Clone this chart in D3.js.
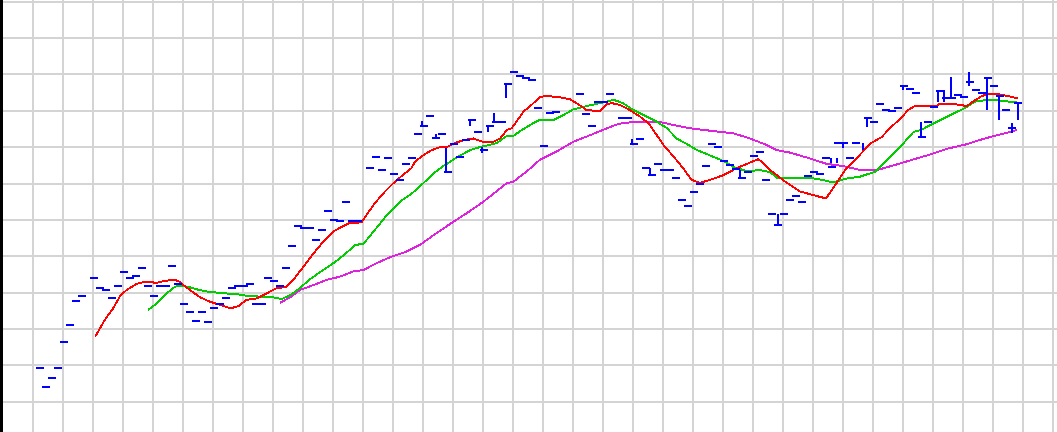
<!DOCTYPE html>
<html>
<head>
<meta charset="utf-8">
<script src="https://cdn.jsdelivr.net/npm/d3@7"></script>
<style>
  body { margin: 0; background: #fff; overflow: hidden; }
</style>
</head>
<body>
<script>
const width = 1057;
const height = 432;

// grid: one horizontal line per price unit, one vertical line per week (5 days)
const priceLevels = d3.range(10, 22);
const weeks = d3.range(1, 36);

// daily closes [day, price]
const closeTicks = [
  [6, 10.92], [7, 10.41], [8, 10.64], [9, 10.92], [10, 11.63], [11, 12.12], [12, 12.78], [13, 12.90],
  [15, 13.39], [16, 13.12], [17, 13.06], [18, 12.84], [19, 13.18], [20, 13.56], [21, 13.39], [22, 13.45],
  [23, 13.67], [24, 13.18], [25, 12.90], [26, 13.18], [27, 13.18], [28, 13.73], [29, 13.23],
  [30, 12.68], [31, 12.46], [32, 12.23], [33, 12.46], [34, 12.18], [35, 12.57], [36, 12.68], [37, 12.84],
  [38, 13.12], [39, 13.18], [40, 13.18], [41, 13.23], [42, 12.68], [43, 12.68], [44, 13.39], [45, 13.33],
  [46, 13.17], [47, 13.67], [48, 14.27], [49, 14.82], [50, 14.77], [51, 14.77], [52, 14.45], [53, 14.71],
  [54, 15.25], [55, 15.00], [56, 14.96], [57, 15.48], [58, 14.97], [59, 14.97],
  [61, 16.42], [62, 16.74], [63, 16.37], [64, 16.69], [65, 16.25], [66, 16.10], [67, 16.53], [68, 16.69],
  [69, 17.36], [70, 17.58], [71, 17.86], [72, 17.24], [73, 17.36], [74, 16.33], [75, 17.09], [76, 16.74],
  [77, 17.20], [78, 17.75], [79, 17.43], [80, 16.92], [81, 17.58], [82, 17.68], [83, 17.68], [84, 18.74],
  [85, 19.08], [86, 18.96], [87, 18.90], [88, 18.85], [89, 18.07], [90, 17.03], [91, 17.93], [92, 17.96],
  [96, 18.45], [97, 17.90], [98, 17.57], [99, 18.23], [100, 18.23], [101, 18.45], [103, 17.79], [104, 17.79],
  [105, 17.09], [106, 17.22], [107, 16.42], [108, 16.23], [109, 16.53], [110, 16.36], [111, 16.36], [112, 16.14],
  [113, 15.54], [114, 15.38], [115, 15.76], [116, 15.98], [117, 16.48], [118, 17.08], [119, 17.01], [120, 16.62],
  [121, 16.51], [122, 16.40], [123, 16.15], [124, 16.31], [125, 16.76], [126, 16.86], [127, 16.09], [128, 15.15],
  [129, 14.87], [130, 15.15], [131, 15.54], [132, 15.65], [133, 15.48], [134, 16.20], [135, 16.31], [136, 16.25],
  [137, 16.69], [138, 16.46], [139, 17.12], [140, 17.12], [141, 16.69], [142, 17.12], [144, 17.79], [145, 17.70],
  [146, 18.19], [147, 18.02], [148, 17.99], [149, 18.07], [150, 18.68], [151, 18.60], [152, 18.50], [153, 17.27],
  [154, 17.70], [155, 18.11], [156, 18.54], [157, 18.34], [158, 18.34], [159, 18.44], [160, 18.37], [161, 18.80],
  [162, 18.57], [163, 18.48], [164, 18.89], [165, 18.68], [166, 18.41], [167, 18.02], [168, 17.52], [169, 18.21]
];

// vertical moves between closes [day, from, to]
const closeJumps = [
  [69.7, 17.72, 17.58], [72, 17.36, 17.24], [73.7, 16.97, 16.33], [77.7, 17.75, 17.58],
  [79.7, 17.01, 16.85], [80.7, 17.58, 17.43], [81.7, 17.93, 17.68], [83.7, 18.74, 18.34],
  [104.7, 17.22, 17.06], [107.7, 16.42, 16.23], [122.7, 16.37, 16.15], [129.0, 15.16, 14.86],
  [137.8, 16.69, 16.56], [138.8, 16.69, 16.56], [139.8, 17.12, 16.97], [143.2, 17.12, 16.92],
  [143.8, 17.79, 17.56], [149.8, 18.71, 18.57], [152.8, 17.69, 17.28], [155.7, 18.54, 18.25],
  [156.7, 18.57, 18.25], [157.8, 18.94, 18.34], [160.8, 19.08, 18.68], [163.8, 18.89, 18.02],
  [165.8, 18.41, 17.75], [168.0, 17.67, 17.38], [169.0, 18.21, 17.75]
];

// moving averages [day, price]
const maShort = [
  [15.2, 11.79], [16.8, 12.25], [18.2, 12.57], [19.3, 12.89], [20.4, 13.07], [22.1, 13.24], [23.5, 13.30],
  [25.4, 13.27], [27.1, 13.33], [28.5, 13.35], [29.3, 13.30], [29.9, 13.21], [31.0, 13.07], [32.7, 12.87],
  [34.3, 12.75], [36.6, 12.63], [37.8, 12.57], [39.1, 12.63], [40.4, 12.80], [42.1, 12.84], [43.8, 12.98],
  [45.4, 13.12], [47.1, 13.16], [48.2, 13.35], [49.9, 13.71], [51.6, 14.08], [53.2, 14.40], [54.9, 14.68],
  [56.3, 14.81], [57.7, 14.92], [59.6, 14.93], [60.4, 15.13], [61.8, 15.46], [63.5, 15.78], [64.9, 16.01],
  [66.8, 16.28], [67.9, 16.42], [68.5, 16.60], [69.9, 16.78], [71.3, 16.92], [72.7, 17.00], [73.8, 17.00],
  [75.2, 17.12], [76.8, 17.20], [78.2, 17.24], [79.9, 17.14], [81.6, 17.15], [82.7, 17.24], [83.8, 17.47],
  [84.6, 17.52], [85.4, 17.70], [86.6, 17.98], [87.9, 18.16], [89.3, 18.37], [90.2, 18.41], [92.7, 18.37],
  [94.3, 18.32], [95.4, 18.21], [97.1, 18.02], [99.3, 17.99], [100.4, 18.18], [101.3, 18.21], [102.7, 18.16],
  [104.3, 18.02], [106.0, 17.84], [107.4, 17.66], [108.8, 17.33], [109.9, 17.06], [111.6, 16.74], [113.2, 16.42],
  [114.6, 16.10], [116.0, 16.02], [117.7, 16.10], [119.9, 16.23], [122.1, 16.42], [124.1, 16.56], [125.7, 16.67],
  [126.3, 16.60], [127.7, 16.37], [130.2, 16.05], [132.7, 15.78], [134.9, 15.68], [137.0, 15.59], [138.8, 16.02],
  [140.2, 16.37], [142.1, 16.69], [144.3, 17.09], [146.3, 17.28], [147.7, 17.53], [149.3, 17.77], [150.7, 18.02],
  [151.8, 18.13], [155.5, 18.13], [156.0, 18.20], [158.2, 18.19], [160.5, 18.13], [161.3, 18.23], [162.7, 18.38],
  [163.8, 18.46], [165.7, 18.46], [167.7, 18.39], [169.0, 18.34]
];

const maMid = [
  [24.0, 12.52], [25.5, 12.71], [27.1, 12.98], [28.5, 13.16], [29.3, 13.19], [30.7, 13.16], [32.1, 13.09],
  [33.8, 13.03], [36.6, 12.98], [38.8, 12.96], [40.5, 12.91], [42.7, 12.89], [44.9, 12.87], [46.3, 12.82],
  [47.7, 12.93], [49.3, 13.12], [51.0, 13.37], [53.2, 13.62], [55.5, 13.88], [57.4, 14.14], [58.5, 14.31],
  [59.9, 14.34], [61.6, 14.68], [63.8, 15.13], [66.0, 15.50], [68.0, 15.73], [69.9, 16.01], [71.6, 16.28],
  [73.2, 16.48], [75.5, 16.72], [77.7, 16.92], [79.3, 17.00], [82.1, 17.11], [83.8, 17.31], [84.9, 17.31],
  [86.3, 17.47], [88.0, 17.64], [89.3, 17.75], [91.6, 17.75], [93.2, 17.88], [94.9, 18.04], [97.1, 18.13],
  [99.3, 18.21], [101.6, 18.30], [103.2, 18.21], [104.9, 18.02], [107.1, 17.84], [108.8, 17.70], [110.5, 17.52],
  [112.1, 17.24], [114.1, 17.06], [115.5, 16.92], [117.7, 16.77], [119.9, 16.62], [121.6, 16.45], [123.8, 16.34],
  [126.0, 16.37], [127.7, 16.31], [128.8, 16.16], [131.0, 16.14], [134.9, 16.14], [136.3, 16.10], [138.2, 16.03],
  [140.5, 16.14], [142.7, 16.19], [145.3, 16.33], [147.7, 16.74], [149.7, 17.07], [151.6, 17.42], [152.8, 17.47],
  [155.0, 17.66], [157.7, 17.88], [160.2, 18.08], [161.8, 18.25], [163.8, 18.30], [166.0, 18.28], [168.8, 18.23]
];

const maLong = [
  [46.0, 12.72], [47.7, 12.87], [49.3, 13.07], [51.6, 13.21], [53.8, 13.35], [56.0, 13.44], [58.2, 13.58],
  [59.9, 13.62], [62.1, 13.81], [64.3, 13.97], [67.1, 14.13], [69.3, 14.31], [71.6, 14.58], [74.9, 14.95],
  [77.1, 15.18], [79.9, 15.50], [83.8, 16.01], [84.9, 16.05], [87.1, 16.33], [89.3, 16.65], [92.1, 16.88],
  [94.9, 17.15], [97.7, 17.33], [100.5, 17.52], [102.4, 17.64], [104.3, 17.68], [109.3, 17.69], [111.6, 17.61],
  [114.3, 17.52], [119.3, 17.42], [121.6, 17.38], [124.3, 17.24], [127.1, 17.06], [128.8, 16.92], [131.0, 16.85],
  [134.3, 16.69], [137.1, 16.54], [139.9, 16.48], [142.7, 16.37], [145.7, 16.38], [148.5, 16.51], [151.3, 16.65],
  [154.6, 16.81], [157.3, 16.96], [160.2, 17.07], [162.7, 17.20], [164.8, 17.30], [166.8, 17.38], [168.8, 17.47]
];

let svg = d3
  .select("body")
  .append("svg")
  .attr("width", width)
  .attr("height", height);

svg.append("rect").attr("width", width).attr("height", height).attr("fill", "#fff");

let xScale = d3.scaleLinear().domain([0, 175]).range([4, 1054]);
let yScale = d3.scaleLinear().domain([10, 21]).range([401.7, 1.7]);

let grid = svg
  .append("g")
  .attr("stroke", "#d4d4d4")
  .attr("stroke-width", 2)
  .attr("shape-rendering", "crispEdges");

grid
  .selectAll("line.v")
  .data(weeks)
  .join("line")
  .attr("class", "v")
  .attr("x1", (w) => xScale(w * 5) - 1)
  .attr("x2", (w) => xScale(w * 5) - 1)
  .attr("y1", 0)
  .attr("y2", height);

grid
  .selectAll("line.h")
  .data(priceLevels)
  .join("line")
  .attr("class", "h")
  .attr("x1", 0)
  .attr("x2", width)
  .attr("y1", (p) => yScale(p))
  .attr("y2", (p) => yScale(p));

// left axis line
svg
  .append("line")
  .attr("x1", 1.5)
  .attr("x2", 1.5)
  .attr("y1", 0)
  .attr("y2", height)
  .attr("stroke", "#000")
  .attr("stroke-width", 3);

let line = d3
  .line()
  .x((d) => xScale(d[0]))
  .y((d) => yScale(d[1]));

let series = [
  { data: maLong, color: "#dd22dd" },
  { data: maMid, color: "#00cc00" },
  { data: maShort, color: "#ff0000" }
];

svg
  .selectAll("path.ma")
  .data(series)
  .join("path")
  .attr("class", "ma")
  .attr("d", (s) => line(s.data))
  .attr("fill", "none")
  .attr("stroke", (s) => s.color)
  .attr("stroke-width", 2)
  .attr("shape-rendering", "crispEdges");

let closes = svg
  .append("g")
  .attr("stroke", "#0000ff")
  .attr("stroke-width", 2)
  .attr("shape-rendering", "crispEdges");

closes
  .selectAll("line.tick")
  .data(closeTicks)
  .join("line")
  .attr("class", "tick")
  .attr("x1", (d) => xScale(d[0]) - 4)
  .attr("x2", (d) => xScale(d[0]) + 4)
  .attr("y1", (d) => yScale(d[1]))
  .attr("y2", (d) => yScale(d[1]));

closes
  .selectAll("line.jump")
  .data(closeJumps)
  .join("line")
  .attr("class", "jump")
  .attr("x1", (d) => xScale(d[0]))
  .attr("x2", (d) => xScale(d[0]))
  .attr("y1", (d) => yScale(d[1]))
  .attr("y2", (d) => yScale(d[2]));
</script>
</body>
</html>
